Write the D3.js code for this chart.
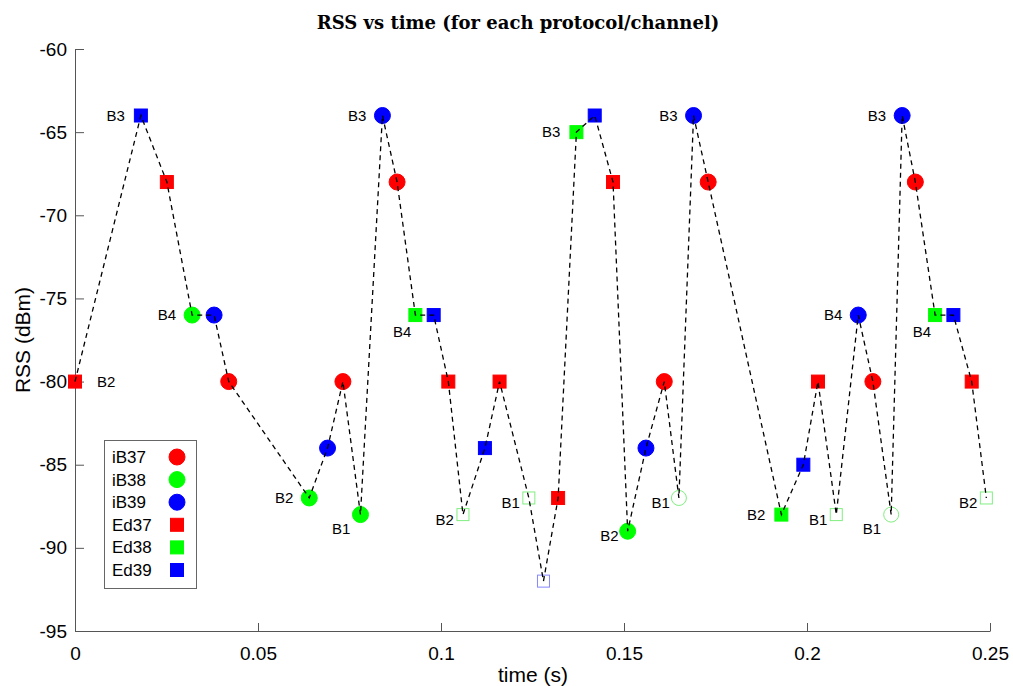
<!DOCTYPE html>
<html><head><meta charset="utf-8">
<script src="https://cdn.jsdelivr.net/npm/d3@7"></script>
<style>body{margin:0;background:#fff}</style>
</head><body>
<svg id="c" width="1013" height="686"></svg>
<script>
// Data (time order)
const times = [0, 0.018, 0.0251, 0.032, 0.038, 0.042, 0.064, 0.069, 0.0732, 0.078,
  0.084, 0.088, 0.093, 0.098, 0.102, 0.106, 0.112, 0.116, 0.124, 0.128,
  0.132, 0.137, 0.142, 0.147, 0.151, 0.156, 0.161, 0.165, 0.169, 0.173,
  0.193, 0.199, 0.203, 0.208, 0.214, 0.218, 0.223, 0.226, 0.2296, 0.235,
  0.240, 0.245, 0.249];
const rss = [-80, -64, -68, -76, -76, -80, -87, -84, -80, -88,
  -64, -68, -76, -76, -80, -88, -84, -80, -87, -92,
  -87, -65, -64, -68, -89, -84, -80, -87, -64, -68,
  -88, -85, -80, -88, -76, -80, -88, -64, -68, -76,
  -76, -80, -87];
const series = ["Ed37","Ed39","Ed37","iB38","iB39","iB37","iB38","iB39","iB37","iB38",
  "iB39","iB37","Ed38","Ed39","Ed37","Ed38","Ed39","Ed37","Ed38","Ed39",
  "Ed37","Ed38","Ed39","Ed37","iB38","iB39","iB37","iB38","iB39","iB37",
  "Ed38","Ed39","Ed37","Ed38","iB39","iB37","iB38","iB39","iB37","Ed38",
  "Ed39","Ed37","Ed38"];
const hollow = [0,0,0,0,0,0,0,0,0,0, 0,0,0,0,0,1,0,0,1,1, 0,0,0,0,0,0,0,1,0,0, 0,0,0,1,0,0,1,0,0,0, 0,0,1];
const labels = ["B2","B3","","B4","","","B2","","","B1",
  "B3","","B4","","","B2","","","B1","",
  "","B3","","","B2","","","B1","B3","",
  "B2","","","B1","B4","","B1","B3","","B4",
  "","","B2"];
const labelPos = ["r","l","","l","","","l","","","bl",
  "l","","b","","","ls","","","ls","",
  "","l","","","ls","","","ls","l","",
  "l","","","ls","l","","bl","l","","b",
  "","","ls"];
const legendNames = ["iB37","iB38","iB39","Ed37","Ed38","Ed39"];
const xTicks = [0, 0.05, 0.1, 0.15, 0.2, 0.25];
const yTicks = [-95, -90, -85, -80, -75, -70, -65, -60];

const colorOf = {"37":"#ff0000","38":"#00ff00","39":"#0000ff"};
const lightOf = {"37":"#ff8080","38":"#80ee80","39":"#8888ff"};

const svg = d3.select("#c");
const x = d3.scaleLinear().domain([0,0.25]).range([75,990]);
const y = d3.scaleLinear().domain([-95,-60]).range([631,49]);
const axisColor = "#555";

// axes
const xa = svg.append("g").attr("transform","translate(0,631)")
  .call(d3.axisBottom(x).tickValues(xTicks).tickSizeInner(-8).tickSizeOuter(0).tickPadding(16)
    .tickFormat(d => String(+d.toFixed(2))));
const ya = svg.append("g").attr("transform","translate(75,0)")
  .call(d3.axisLeft(y).tickValues(yTicks).tickSizeInner(-9).tickSizeOuter(0).tickPadding(8)
    .tickFormat(d => String(d)));
[xa, ya].forEach(g => {
  g.select(".domain").attr("stroke", axisColor);
  g.selectAll(".tick line").attr("stroke", axisColor);
  g.selectAll("text").attr("font-family","Liberation Sans, Arial, sans-serif").attr("font-size",19).attr("fill","#000");
});

// title & labels
svg.append("text").attr("x",518).attr("y",29).attr("text-anchor","middle")
  .attr("font-family","'DejaVu Serif', serif").attr("font-weight","bold").attr("font-size",18)
  .text("RSS vs time (for each protocol/channel)");
svg.append("text").attr("x",533).attr("y",682).attr("text-anchor","middle")
  .attr("font-family","Liberation Sans, Arial, sans-serif").attr("font-size",21).text("time (s)");
svg.append("text").attr("transform","translate(30,340) rotate(-90)").attr("text-anchor","middle")
  .attr("font-family","Liberation Sans, Arial, sans-serif").attr("font-size",21).text("RSS (dBm)");

const pts = times.map((t,i) => ({t, v: rss[i], s: series[i], h: hollow[i], lab: labels[i], pos: labelPos[i]}));

function drawMarker(g, s, h, cx, cy) {
  const ch = s.slice(-2);
  const isCircle = s.startsWith("iB");
  const col = colorOf[ch];
  if (isCircle) {
    g.append("circle").attr("cx",cx).attr("cy",cy).attr("r", h ? 7.5 : 8)
      .attr("fill", h ? "none" : col).attr("stroke", h ? lightOf[ch] : col).attr("stroke-width", 1);
  } else {
    const sz = h ? 12 : 13;
    g.append("rect").attr("x",cx-sz/2).attr("y",cy-sz/2).attr("width",sz).attr("height",sz)
      .attr("fill", h ? "none" : col).attr("stroke", h ? lightOf[ch] : col).attr("stroke-width", 1);
  }
}

const mg = svg.append("g");
pts.forEach(p => drawMarker(mg, p.s, p.h, x(p.t), y(p.v)));

// dashed line on top
svg.append("path").datum(pts)
  .attr("d", d3.line().x(d => x(d.t)).y(d => y(d.v)))
  .attr("fill","none").attr("stroke","#000").attr("stroke-width",1.3).attr("stroke-dasharray","5,4");

// point labels
const off = {r:[22,0,"start"], l:[-16,0,"end"], bl:[-10,14,"end"], b:[-4,17,"end"], ls:[-9,5,"end"]};
pts.filter(p => p.lab).forEach(p => {
  const o = off[p.pos];
  svg.append("text").attr("x", x(p.t)+o[0]).attr("y", y(p.v)+o[1]).attr("dy","0.35em")
    .attr("text-anchor", o[2]).attr("font-family","Liberation Sans, Arial, sans-serif")
    .attr("font-size",15).text(p.lab);
});

// legend
const lg = svg.append("g");
lg.append("rect").attr("x",104.5).attr("y",440.5).attr("width",92).attr("height",148)
  .attr("fill","#fff").attr("stroke","#666").attr("stroke-width",1);
legendNames.forEach((n,i) => {
  const cy = 457 + i*22.6;
  lg.append("text").attr("x",112).attr("y",cy).attr("dy","0.35em")
    .attr("font-family","Liberation Sans, Arial, sans-serif").attr("font-size",17).text(n);
  drawMarker(lg, n, 0, 177, cy);
});
</script>
</body></html>
